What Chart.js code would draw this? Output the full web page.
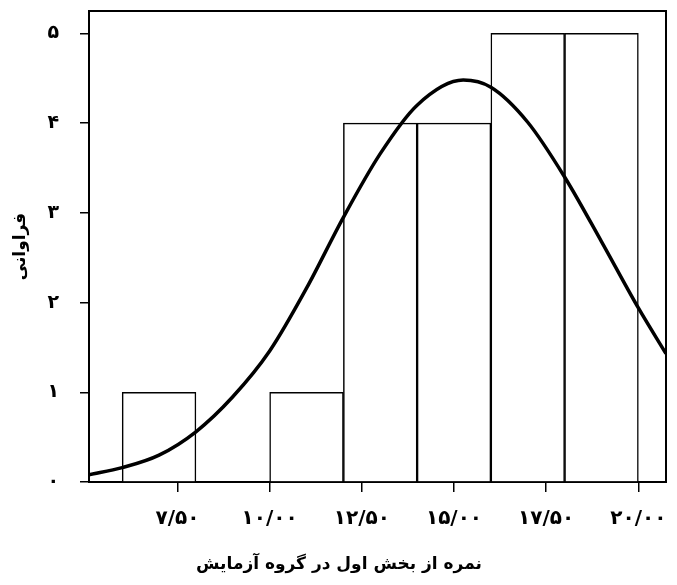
<!DOCTYPE html>
<html lang="fa">
<head>
<meta charset="utf-8">
<title>نمره از بخش اول در گروه آزمایش</title>
<script src="https://cdn.jsdelivr.net/npm/chart.js@4.4.1/dist/chart.umd.min.js"></script>
<style>
  html, body { margin: 0; padding: 0; background: #fff; }
  #wrap { width: 677px; height: 585px; }
</style>
</head>
<body>
<div id="wrap"><canvas id="histChart"></canvas></div>
<script>
// histogram bins (centre of each 2-point bin) and counts
const binCenters = [7, 9, 11, 13, 15, 17, 19];
const frequencies = [1, 0, 1, 4, 4, 5, 5];

// fitted normal curve
const curveX = [5.1, 6, 7, 8, 9, 10, 11, 12, 13, 14, 15.25, 16, 17, 18, 19, 20, 20.75];
const curveY = [0.08, 0.16, 0.3, 0.56, 0.95, 1.46, 2.16, 2.95, 3.66, 4.2, 4.48, 4.4, 4.01, 3.4, 2.68, 1.94, 1.43];

const xTickValues = [7.5, 10, 12.5, 15, 17.5, 20];
const xTickLabels = ["۷/۵۰", "۱۰/۰۰", "۱۲/۵۰", "۱۵/۰۰", "۱۷/۵۰", "۲۰/۰۰"];
const yTickValues = [0, 1, 2, 3, 4, 5];
const yTickLabels = ["۰", "۱", "۲", "۳", "۴", "۵"];

const xTitle = "نمره از بخش اول در گروه آزمایش";
const yTitle = "فراوانی";

const fontFamily = "'DejaVu Sans', sans-serif";
Chart.defaults.font.family = fontFamily;
Chart.defaults.color = "#000";

// keep the plot frame where the picture has it, labels may overhang
const noPad = (scale) => {
  scale.paddingTop = 0;
  scale.paddingBottom = 0;
  scale.paddingLeft = 0;
  scale.paddingRight = 0;
};

const ctx = document.getElementById("histChart").getContext("2d");

new Chart(ctx, {
  type: "bar",
  data: {
    datasets: [
      {
        type: "line",
        data: curveX.map((x, i) => ({ x: x, y: curveY[i] })),
        borderColor: "#000",
        borderWidth: 3.5,
        pointRadius: 0,
        cubicInterpolationMode: "monotone",
        fill: false,
        order: 0,
      },
      {
        type: "bar",
        data: binCenters.map((x, i) => ({ x: x, y: frequencies[i] })),
        backgroundColor: "#fff",
        borderColor: "#000",
        borderWidth: 1.5,
        barPercentage: 1,
        categoryPercentage: 1,
        order: 1,
      },
    ],
  },
  options: {
    responsive: true,
    maintainAspectRatio: false,
    animation: false,
    layout: {
      padding: { left: 12, top: 11, right: 11, bottom: 0 },
    },
    plugins: {
      legend: { display: false },
      tooltip: { enabled: false },
      title: {
        display: true,
        position: "bottom",
        text: xTitle,
        font: { size: 17, weight: "bold", lineHeight: 1.2 },
        padding: { top: 0, bottom: 10 },
      },
    },
    scales: {
      x: {
        type: "linear",
        position: "bottom",
        offset: false,
        min: 5.1,
        max: 20.75,
        afterBuildTicks: (scale) => {
          scale.ticks = xTickValues.map((v) => ({ value: v }));
        },
        afterFit: (scale) => {
          scale.height = 72.6;
          noPad(scale);
        },
        grid: {
          offset: false,
          drawOnChartArea: false,
          drawTicks: true,
          tickLength: 10,
          color: "#000",
          lineWidth: 1.5,
        },
        border: { display: true, color: "#000", width: 2 },
        ticks: {
          padding: 15,
          maxRotation: 0,
          font: { size: 20, weight: "bold" },
          callback: (value, index) => xTickLabels[index],
        },
      },
      y: {
        type: "linear",
        position: "left",
        min: 0,
        max: 5.25,
        afterBuildTicks: (scale) => {
          scale.ticks = yTickValues.map((v) => ({ value: v }));
        },
        afterFit: (scale) => {
          scale.width = 77;
          noPad(scale);
        },
        grid: {
          drawOnChartArea: false,
          drawTicks: true,
          tickLength: 9,
          color: "#000",
          lineWidth: 1.5,
        },
        border: { display: true, color: "#000", width: 2 },
        ticks: {
          padding: 21,
          font: { size: 19, weight: "bold" },
          callback: (value, index) => yTickLabels[index],
        },
        title: {
          display: true,
          text: yTitle,
          font: { size: 17, weight: "bold" },
          padding: { top: -2, bottom: 0 },
        },
      },
      x2: {
        type: "linear",
        position: "top",
        offset: false,
        min: 5.1,
        max: 20.75,
        ticks: { display: false },
        grid: { display: false, drawTicks: false },
        border: { display: true, color: "#000", width: 2 },
        afterFit: (scale) => {
          scale.height = 0;
          noPad(scale);
        },
      },
      y2: {
        type: "linear",
        position: "right",
        min: 0,
        max: 5.25,
        ticks: { display: false },
        grid: { display: false, drawTicks: false },
        border: { display: true, color: "#000", width: 2 },
        afterFit: (scale) => {
          scale.width = 0;
          noPad(scale);
        },
      },
    },
  },
});
</script>
</body>
</html>
